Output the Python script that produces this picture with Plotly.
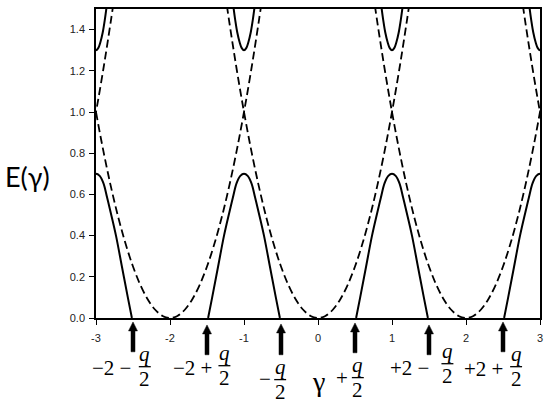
import plotly.graph_objects as go

# ---------------- data ----------------
# lower solid band, half-profile: offset from band centre -> E
lower_dx = [0.0, 0.05, 0.10, 0.15, 0.20, 0.27, 0.35, 0.43, 0.485]
lower_E = [0.70, 0.69, 0.655, 0.585, 0.51, 0.40, 0.25, 0.10, 0.0]
# upper solid band, half-profile
upper_dx = [0.0, 0.03, 0.06, 0.09, 0.12, 0.15, 0.18]
upper_E = [1.30, 1.31, 1.34, 1.385, 1.45, 1.53, 1.62]
# dashed free-particle parabolas, half-profile
dashed_dx = [0.0, 0.1, 0.2, 0.3, 0.4, 0.5, 0.6, 0.7, 0.8, 0.9, 1.0, 1.1, 1.2, 1.3]
dashed_E = [0.0, 0.01, 0.04, 0.09, 0.16, 0.25, 0.36, 0.49, 0.64, 0.81, 1.0, 1.21, 1.44, 1.69]

band_centres = [-3, -1, 1, 3]
parabola_centres = [-4, -2, 0, 2, 4]

arrow_x = [-2.5, -1.5, -0.5, 0.5, 1.5, 2.5]

x_ticks = [-3, -2, -1, 0, 1, 2, 3]
x_ticktext = ["-3", "-2", "-1", "0", "1", "2", "3"]
y_ticks = [0.0, 0.2, 0.4, 0.6, 0.8, 1.0, 1.2, 1.4]
y_ticktext = ["0.0", "0.2", "0.4", "0.6", "0.8", "1.0", "1.2", "1.4"]

# ---------------- layout geometry (pixels) ----------------
W, H = 550, 404
ML, MR, MT, MB = 96, 8, 7, 86
PW = W - ML - MR
PH = H - MT - MB
X0, X1 = -3, 3


def px2x(px):
    return (px - ML) / PW * (X1 - X0) + X0


def py2p(py):
    return (H - MB - py) / PH


def full(centre, dx, e):
    xs = [centre - d for d in reversed(dx)] + [centre + d for d in dx[1:]]
    ys = list(reversed(e)) + list(e[1:])
    return xs, ys


fig = go.Figure()

for c in parabola_centres:
    xs, ys = full(c, dashed_dx, dashed_E)
    fig.add_trace(go.Scatter(x=xs, y=ys, mode="lines", line_shape="spline",
                             line=dict(color="black", width=1.8, dash="8px,4px"),
                             hoverinfo="skip", showlegend=False))

for c in band_centres:
    xs, ys = full(c, lower_dx, lower_E)
    fig.add_trace(go.Scatter(x=xs, y=ys, mode="lines", line_shape="spline",
                             line=dict(color="black", width=2),
                             hoverinfo="skip", showlegend=False))
    xs, ys = full(c, upper_dx, upper_E)
    fig.add_trace(go.Scatter(x=xs, y=ys, mode="lines", line_shape="spline",
                             line=dict(color="black", width=2),
                             hoverinfo="skip", showlegend=False))

# ---------------- arrows ----------------
arrow_tip_py = [322, 325, 324, 323, 325, 322]
arrow_bot_py = [352, 355, 355, 353, 355, 352]
head_len = 9
kx = (X1 - X0) / PW
shapes = []
for ax, tp, bp in zip(arrow_x, arrow_tip_py, arrow_bot_py):
    hw = 4.5 * kx
    sw = 2.0 * kx
    yt, yh, yb = py2p(tp), py2p(tp + head_len), py2p(bp)
    path = (f"M {ax},{yt} L {ax + hw},{yh} L {ax + sw},{yh} L {ax + sw},{yb} "
            f"L {ax - sw},{yb} L {ax - sw},{yh} L {ax - hw},{yh} Z")
    shapes.append(dict(type="path", path=path, xref="x", yref="paper",
                       fillcolor="black", line=dict(color="black", width=0.5)))

# ---------------- math labels ----------------
MF = "Liberation Serif"
FS = 21
labels = [
    # (prefix text, prefix x px, prefix y px, frac x px, bar y px)
    ("−2 −", 112, 368, 145, 367),
    ("−2 +", 193, 368, 225, 366),
    ("−", 266, 379, 281, 380),
    ("+", 343, 378, 359, 378),
    ("+2 −", 411, 368, 449, 364),
    ("+2 +", 485, 369, 518, 367),
]
annotations = []
for txt, tx, ty, fx, by in labels:
    annotations.append(dict(text=txt, x=px2x(tx), y=py2p(ty), xref="x", yref="paper",
                            showarrow=False, xanchor="center", yanchor="middle",
                            font=dict(family=MF, size=FS, color="black")))
    annotations.append(dict(text="<i>q</i>", x=px2x(fx), y=py2p(by - 13), xref="x", yref="paper",
                            showarrow=False, xanchor="center", yanchor="middle",
                            font=dict(family=MF, size=FS, color="black")))
    annotations.append(dict(text="2", x=px2x(fx), y=py2p(by + 12), xref="x", yref="paper",
                            showarrow=False, xanchor="center", yanchor="middle",
                            font=dict(family=MF, size=FS, color="black")))
    shapes.append(dict(type="line", xref="x", yref="paper",
                       x0=px2x(fx - 6), x1=px2x(fx + 6), y0=py2p(by), y1=py2p(by),
                       line=dict(color="black", width=1.3)))

annotations.append(dict(text="γ", x=px2x(319), y=py2p(382), xref="x", yref="paper",
                        showarrow=False, xanchor="center", yanchor="middle",
                        font=dict(family=MF, size=28, color="black")))
annotations.append(dict(text="E(γ)", x=(27 - ML) / PW, y=py2p(176), xref="paper", yref="paper",
                        showarrow=False, xanchor="center", yanchor="middle",
                        font=dict(family="Lato", size=27, color="black")))

tickfont = dict(family="Liberation Sans", size=11, color="#222222")
fig.update_layout(
    width=W, height=H,
    margin=dict(l=ML, r=MR, t=MT, b=MB, pad=0),
    paper_bgcolor="white", plot_bgcolor="white",
    showlegend=False,
    xaxis=dict(range=[X0, X1], tickmode="array", tickvals=x_ticks, ticktext=x_ticktext,
               ticks="outside", ticklen=5, tickwidth=1, tickcolor="black",
               showline=True, linecolor="black", linewidth=1.5, mirror=True,
               showgrid=False, zeroline=False, tickfont=tickfont, ticklabelstandoff=4),
    yaxis=dict(range=[0, 1.5], tickmode="array", tickvals=y_ticks, ticktext=y_ticktext,
               ticks="outside", ticklen=5, tickwidth=1, tickcolor="black",
               showline=True, linecolor="black", linewidth=1.5, mirror=True,
               showgrid=False, zeroline=False, tickfont=tickfont, ticklabelstandoff=2),
    shapes=shapes,
    annotations=annotations,
)

fig.write_html("out.html", config={"displayModeBar": False},
               post_script="document.body.style.margin='0px';document.body.style.overflow='hidden';")
